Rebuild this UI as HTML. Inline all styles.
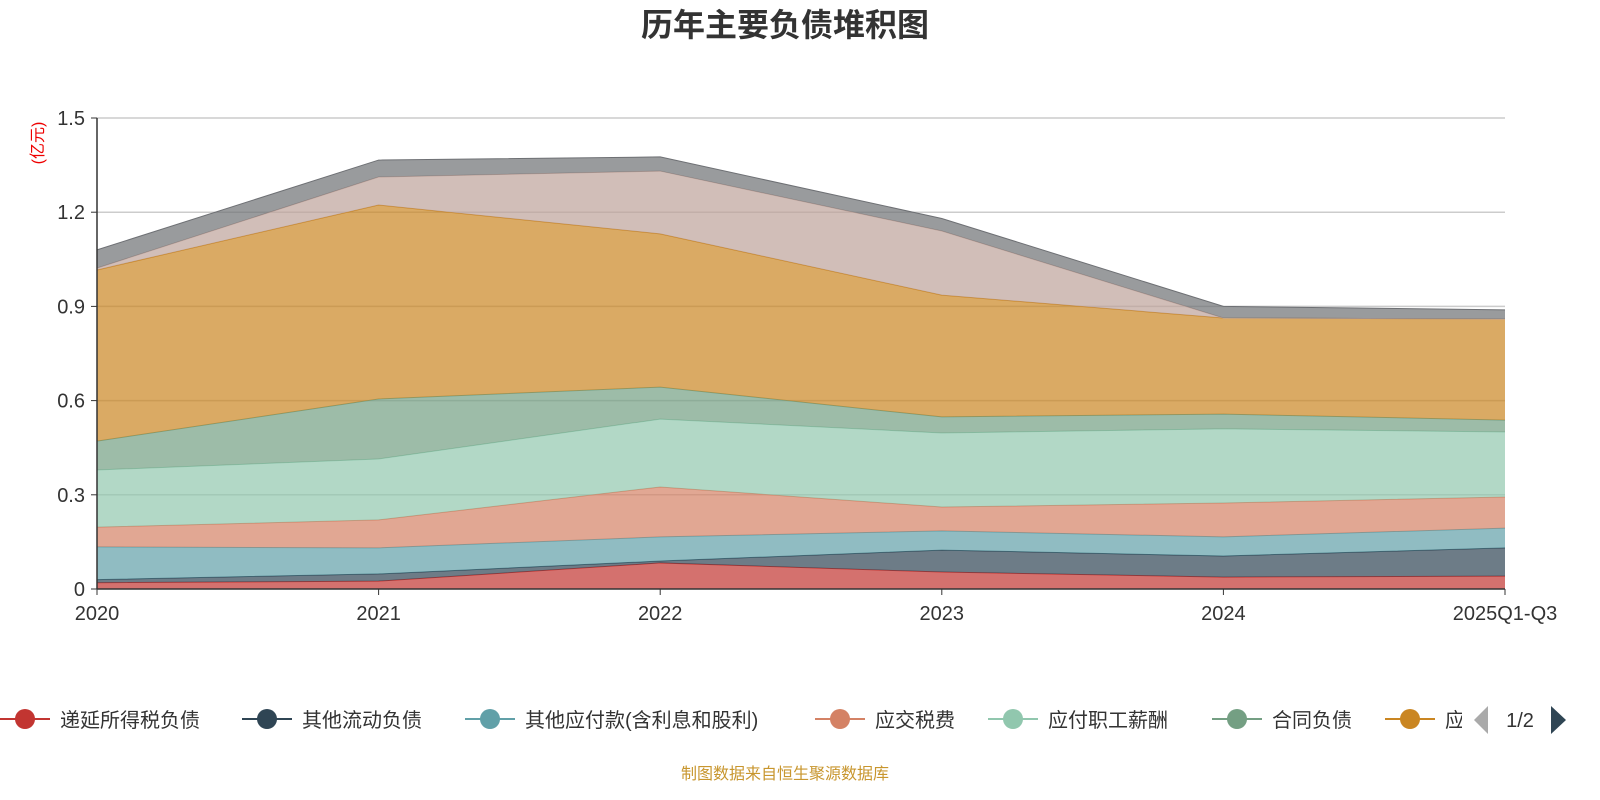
<!DOCTYPE html>
<html><head><meta charset="utf-8"><style>
html,body{margin:0;padding:0;background:#fff;}
svg{display:block;font-family:"Liberation Sans","Noto Sans CJK SC",sans-serif;}
</style></head><body>
<svg id="chart" width="1600" height="800">
<text x="785" y="36" text-anchor="middle" font-size="32" font-weight="bold" fill="#333">历年主要负债堆积图</text>
<text transform="translate(43,143) rotate(-90)" text-anchor="middle" font-size="16" fill="#e00">(亿元)</text>
<g id="grid"></g>
<g id="areas"></g>
<g id="axes"></g>
<g id="legend"></g>
<text x="785" y="779" text-anchor="middle" font-size="16" fill="#c8962e">制图数据来自恒生聚源数据库</text>
</svg>
<script>
const categories = ["2020","2021","2022","2023","2024","2025Q1-Q3"];
const seriesNames = ["递延所得税负债","其他流动负债","其他应付款(含利息和股利)","应交税费","应付职工薪酬","合同负债","应付账款","短期借款","预收款项"];
const s1 = [0.020,0.025,0.083,0.054,0.038,0.041];
const s2 = [0.010,0.023,0.006,0.070,0.067,0.090];
const s3 = [0.104,0.083,0.077,0.061,0.061,0.063];
const s4 = [0.063,0.089,0.159,0.076,0.108,0.099];
const s5 = [0.182,0.194,0.216,0.236,0.236,0.207];
const s6 = [0.092,0.191,0.102,0.051,0.047,0.038];
const s7 = [0.545,0.618,0.488,0.388,0.306,0.322];
const s8 = [0.006,0.089,0.200,0.204,0.000,0.000];
const s9 = [0.058,0.054,0.045,0.040,0.037,0.029];
const yTicks = [0,0.3,0.6,0.9,1.2,1.5];
const yTickLabels = ["0","0.3","0.6","0.9","1.2","1.5"];

const series=[s1,s2,s3,s4,s5,s6,s7,s8,s9];
const colors=["#c23531","#2f4554","#61a0a8","#d48265","#91c7ae","#749f83","#ca8622","#bda29a","#6e7074"];
const X0=97,X1=1505,Y0=589,Y1=118,YMAX=1.5;
const xs=i=>X0+(X1-X0)*i/(categories.length-1);
const ys=v=>Y0-(Y0-Y1)*v/YMAX;
const NS="http://www.w3.org/2000/svg";
function mk(tag,attrs,parent){const e=document.createElementNS(NS,tag);for(const k in attrs)e.setAttribute(k,attrs[k]);parent.appendChild(e);return e;}
const grid=document.getElementById('grid'),areas=document.getElementById('areas'),axes=document.getElementById('axes'),legend=document.getElementById('legend');
yTicks.forEach((t,i)=>{
  if(t>0){const l=mk('line',{x1:X0,x2:X1,y1:ys(t),y2:ys(t),stroke:'#ccc','stroke-width':1.5},grid);
  
  }
  const tx=mk('text',{x:X0-12,y:ys(t)+7,'text-anchor':'end','font-size':20,fill:'#333'},axes);
  tx.textContent=yTickLabels[i];
  
  
  const tk=mk('line',{x1:X0-6,x2:X0,y1:ys(t),y2:ys(t),stroke:'#333'},axes);
  
  
});
let base=categories.map(()=>0);
series.forEach((s,k)=>{
  const top=base.map((b,i)=>b+s[i]);
  let d='M'+top.map((v,i)=>xs(i)+','+ys(v)).join(' L');
  for(let i=categories.length-1;i>=0;i--)d+=' L'+xs(i)+','+ys(base[i]);
  d+='Z';
  const p=mk('path',{d:d,fill:colors[k],'fill-opacity':0.7},areas);
  
  
  const ln=mk('polyline',{points:top.map((v,i)=>xs(i)+','+ys(v)).join(' '),fill:'none',stroke:colors[k],'stroke-width':1},areas);
  
  
  base=top;
});
const ya=mk('line',{x1:X0,x2:X0,y1:Y1,y2:Y0,stroke:'#333','stroke-width':1.5},axes);


const xa=mk('line',{x1:X0,x2:X1,y1:Y0,y2:Y0,stroke:'#333','stroke-width':1.5},axes);


categories.forEach((c,i)=>{
  const tk=mk('line',{x1:xs(i),x2:xs(i),y1:Y0,y2:Y0+6,stroke:'#333'},axes);
  
  
  const t=mk('text',{x:xs(i),y:Y0+31,'text-anchor':'middle','font-size':20,fill:'#333'},axes);
  t.textContent=c;
  
  
});
const clip=mk('clipPath',{id:'lgclip'},legend);mk('rect',{x:0,y:690,width:1462,height:60},clip);
const lg=mk('g',{'clip-path':'url(#lgclip)'},legend);
const lx=[25,267,490,840,1013,1237,1410];
for(let k=0;k<7;k++){
  const g=mk('g',{},lg);
  
  
  mk('line',{x1:lx[k]-25,x2:lx[k]+25,y1:719,y2:719,stroke:colors[k],'stroke-width':2},g);
  mk('circle',{cx:lx[k],cy:719,r:10,fill:colors[k]},g);
  const t=mk('text',{x:lx[k]+35,y:727,'font-size':20,fill:'#333'},g);
  t.textContent=seriesNames[k];
}
const pl=mk('path',{d:'M1488,706 L1488,734 L1474,720 Z',fill:'#aaa'},legend);


const pt=mk('text',{x:1520,y:727,'text-anchor':'middle','font-size':20,fill:'#333'},legend);
pt.textContent='1/2';


const pn=mk('path',{d:'M1551,706 L1551,734 L1566,720 Z',fill:'#2f4554'},legend);


</script>
</body></html>
